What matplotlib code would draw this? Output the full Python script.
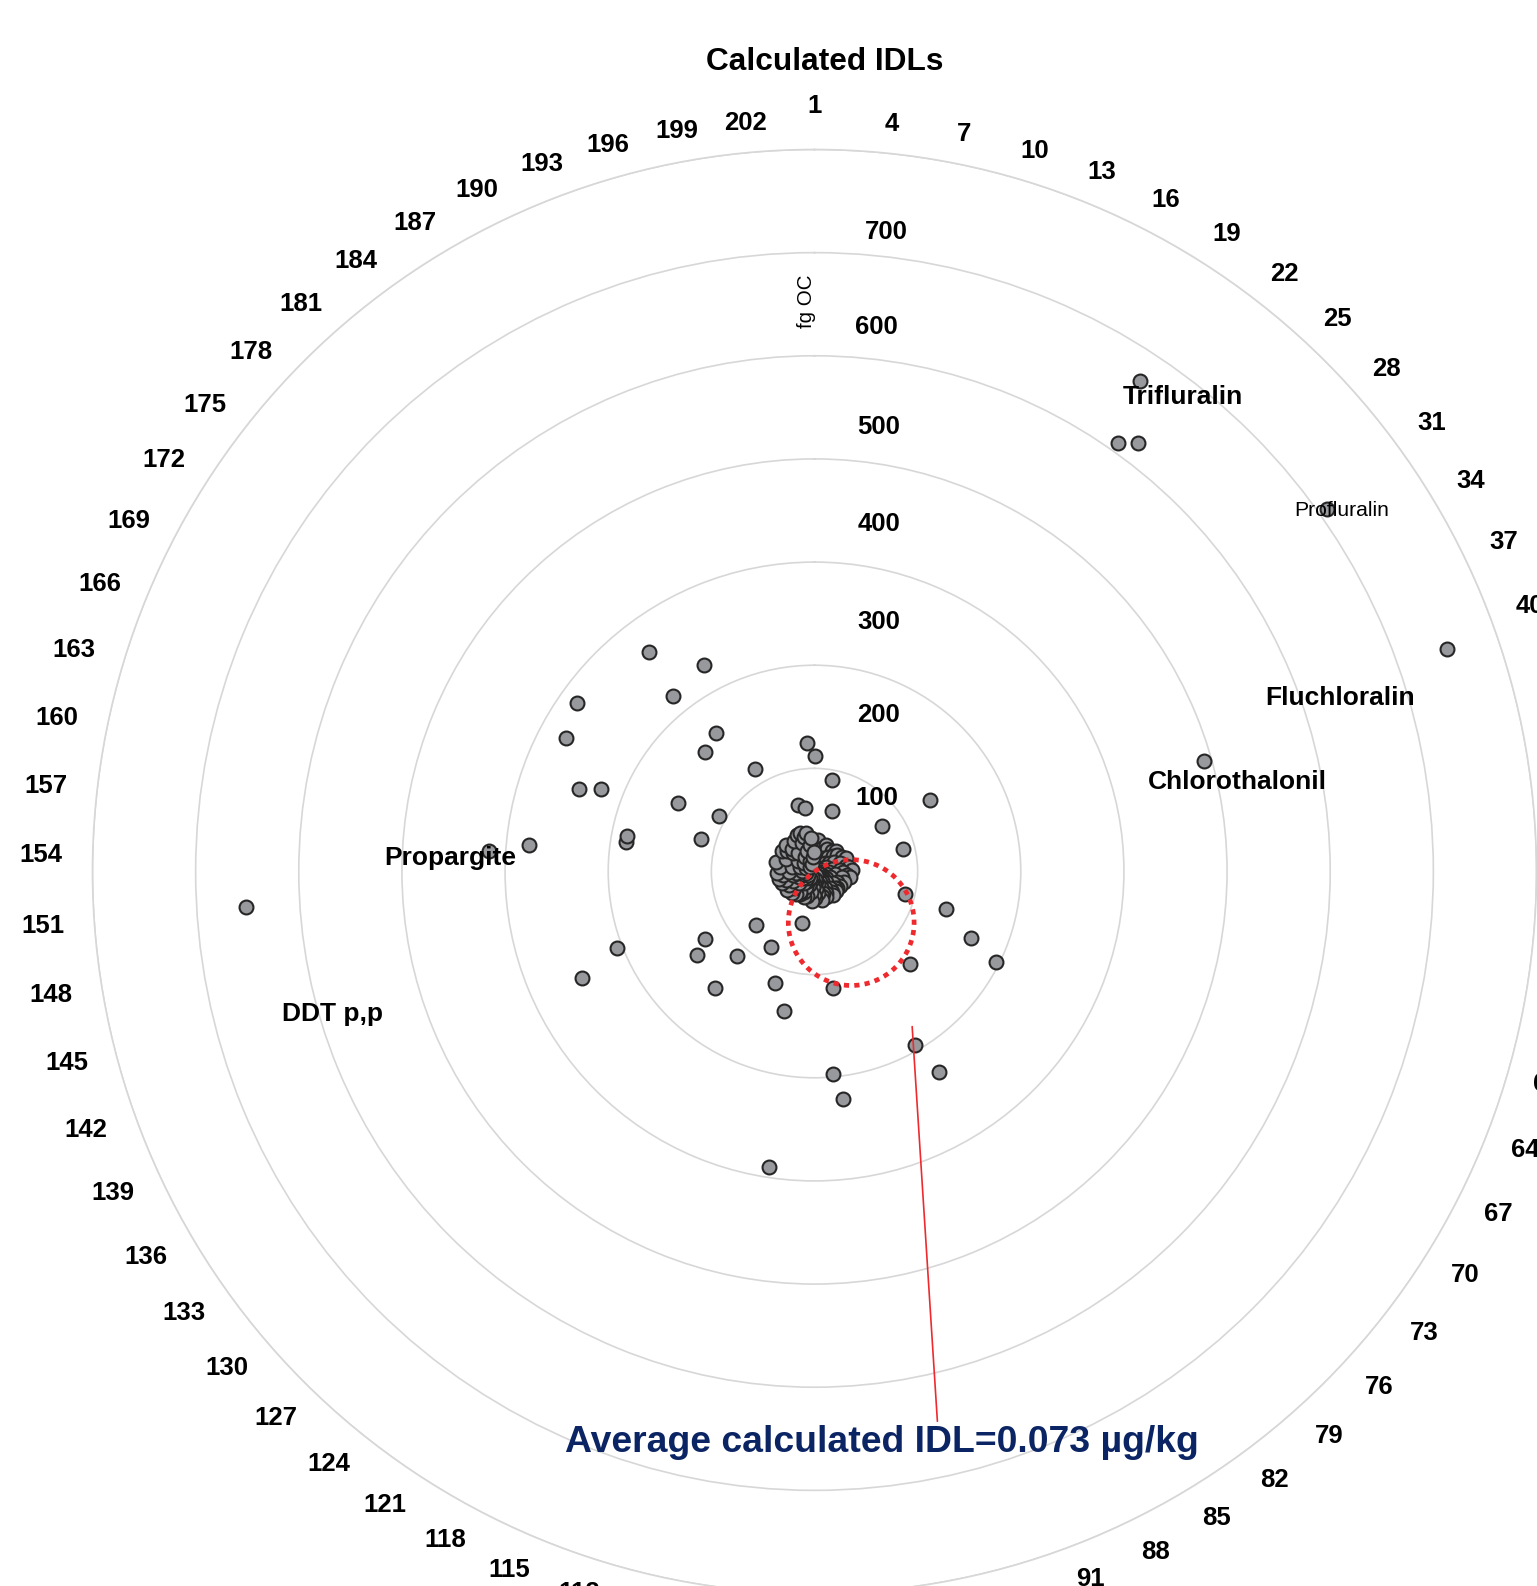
import numpy as np
import matplotlib
matplotlib.use("Agg")
import matplotlib.pyplot as plt
from matplotlib.transforms import offset_copy

plt.rcParams['font.family'] = ['Liberation Sans', 'DejaVu Sans']

# ---------------- data ----------------
N_CATEGORIES = 204
categories = [str(i) for i in range(1, N_CATEGORIES + 1)]

idl_values = [
    112, 9, 27, 14, 31, 6, 90, 20, 11, 61, 24, 4, 18, 28, 10, 22, 7, 25, 15, 571,
    509, 520, 12, 26, 5, 19, 29, 9, 23, 13, 27, 609, 79, 132, 16, 30, 8, 21, 33, 12,
    650, 26, 393, 88, 6, 31, 17, 34, 10, 25, 36, 14, 28, 8, 32, 20, 35, 11, 27, 90,
    133, 16, 30, 7, 165, 24, 197, 13, 29, 5, 21, 27, 10, 25, 15, 28, 129, 8, 22, 26,
    12, 29, 6, 19, 229, 194, 24, 11, 27, 16, 22, 4, 25, 13, 28, 9, 21, 114, 222, 197,
    17, 26, 7, 23, 12, 29, 15, 290, 20, 138, 51, 9, 25, 115, 14, 27, 6, 22, 17, 84,
    26, 11, 24, 8, 28, 149, 111, 15, 30, 77, 10, 26, 19, 140, 32, 125, 13, 28, 7, 248,
    23, 205, 33, 16, 29, 11, 35, 21, 8, 31, 18, 552, 36, 25, 12, 316, 278, 34, 185, 185,
    22, 38, 114, 15, 242, 222, 30, 9, 148, 273, 107, 37, 19, 282, 33, 13, 27, 38, 6, 31,
    157, 24, 219, 267, 165, 36, 17, 115, 227, 39, 11, 30, 40, 21, 35, 8, 66, 38, 26, 62,
    14, 33, 125, 19,
]

radial_ticks = [100, 200, 300, 400, 500, 600, 700]
radial_label_pos = [70.8, 152, 242, 337, 431, 527.5, 619.6]
radial_label_dx_px = [62, 64, 64, 65, 64, 62, 72]

named_compounds = ['Trifluralin', 'Profluralin', 'Fluchloralin', 'Chlorothalonil', 'Propargite', 'DDT p,p']
named_index = [19, 31, 40, 42, 155, 151]
named_offset_px = [(43, -16), (15, -2), (-107, -49), (33, -21), (-39, -7), (86, -107)]
named_bold = [True, False, True, True, True, True]

avg_text = 'Average calculated IDL=0.073 \u00b5g/kg'
avg_circle_direction_deg = 144.3
avg_circle_diameter = 122
avg_pointer_start = (147.8, 177.7)   # (deg, r)
avg_pointer_end = (167.4, 546.2)

# angular label nudges (layout only): angle in deg -> (dx, dy) px, dy downward
nudge_nodes = [0, 3, 16, 28, 45, 55, 65, 69, 90, 111, 120, 135, 145, 160, 180, 201, 206, 211,
               217, 222, 228, 233, 238, 243, 249, 254, 259, 265, 270, 275, 281, 286, 291,
               296, 302, 307, 312, 318, 323, 328, 333, 339, 344, 349, 355, 360]
nudge_dx = [0, 6, 11, 10, 7, 6, 4, 2, -2, -3, 0, -1, -1, 0, -15, -29, -28, -27,
            -24, -23, -22, -20, -18, -17, -15, -12, -12, -10, -8, -7, -6, -5, -1,
            -1, 0, 1, 2, 2, 2, 3, 3, 4, 3, 3, 2, 0]
nudge_dy = [0, 14, 15, 13, 13, 12, 11, 11, 6, 2, 1, 0, -3, -6, -10, -15, -16, -17,
            -18, -19, -19, -19, -17, -19, -18, -18, -17, -16, -16, -15, -13, -12, -11,
            -9, -9, -5, -4, -2, 0, 2, 3, 6, 9, 11, 13, 0]

# ---------------- figure ----------------
W, H = 1537, 1586
fig = plt.figure(figsize=(W / 100, H / 100), dpi=100)
fig.patch.set_facecolor('white')

cx, cy, R700 = 814.5, 871.5, 722.0
ax = fig.add_axes([(cx - R700) / W, (H - cy - R700) / H, 2 * R700 / W, 2 * R700 / H],
                  projection='polar')
ax.set_theta_zero_location('N')
ax.set_theta_direction(-1)
ax.set_ylim(0, 700)

theta = np.deg2rad(np.arange(N_CATEGORIES) * 360.0 / N_CATEGORIES)

grid_c = '#d7d7d7'
ax.set_yticks(radial_ticks)
ax.set_yticklabels([])
ax.yaxis.grid(True, color=grid_c, lw=1.2)
ax.xaxis.grid(False)
ax.spines['polar'].set_color(grid_c)
ax.spines['polar'].set_linewidth(1.2)

tick_idx = np.arange(0, N_CATEGORIES, 3)
ax.set_xticks(theta[tick_idx])
ax.set_xticklabels([])
ax.tick_params(axis='x', length=0)
ax.tick_params(axis='y', length=0)

# category labels around the circle
for i in tick_idx:
    th = theta[i]
    ang = np.rad2deg(th)
    ndx = np.interp(ang, nudge_nodes, nudge_dx) * 1.011
    ndy = np.interp(ang, nudge_nodes, nudge_dy) * 1.011
    xo = 31 * np.sin(th) + ndx * 0.72
    yo = 31 * np.cos(th) - ndy * 0.72
    ax.text(th, 700, categories[i],
            transform=offset_copy(ax.transData, fig=fig, x=xo, y=yo, units='points'),
            ha='center', va='center', fontsize=18.5, fontweight='bold', clip_on=False)

# points
ax.scatter(theta, idl_values, s=100, c='#98999d', edgecolors='#262626',
           linewidths=1.5, zorder=3, clip_on=False)

# average circle (circle through the origin)
phi = np.deg2rad(avg_circle_direction_deg)
tt = np.linspace(phi - np.pi / 2, phi + np.pi / 2, 400)
ax.plot(tt, avg_circle_diameter * np.cos(tt - phi), color='#ee2a2e', lw=3.4,
        linestyle=(0, (1.1, 1.1)), zorder=5)

# pointer line
ax.annotate('', xy=(np.deg2rad(avg_pointer_start[0]), avg_pointer_start[1]),
            xytext=(np.deg2rad(avg_pointer_end[0]), avg_pointer_end[1]),
            arrowprops=dict(arrowstyle='-', color='#ee2a2e', lw=1.2,
                            shrinkA=0, shrinkB=0), zorder=6, annotation_clip=False)

# radial labels
for t, pos, dx in zip(radial_ticks, radial_label_pos, radial_label_dx_px):
    ax.text(0, pos, str(t), transform=offset_copy(ax.transData, fig=fig, x=dx * 0.72, y=0, units='points'),
            ha='center', va='center', fontsize=18.5, fontweight='bold', zorder=6)

# compound labels
for name, i, (ox, oy), b in zip(named_compounds, named_index, named_offset_px, named_bold):
    ax.annotate(name, xy=(theta[i], idl_values[i]), xytext=(ox * 0.72, oy * 0.72),
                textcoords='offset points', ha='center', va='center',
                fontsize=19 if b else 15.2, fontweight='bold' if b else 'normal',
                zorder=6, annotation_clip=False)

# texts
fig.text(825 / W, 1 - 70 / H, 'Calculated IDLs', ha='center', va='baseline',
         fontsize=22.8, fontweight='bold')
fig.text(806.7 / W, 1 - 301.7 / H, 'fg OC', rotation=90, ha='center', va='center',
         fontsize=14.8)
fig.text(882 / W, 1 - 1452 / H, avg_text, ha='center', va='baseline',
         fontsize=26.9, fontweight='bold', color='#0b2463')

fig.savefig('out.png', dpi=100, facecolor='white')
